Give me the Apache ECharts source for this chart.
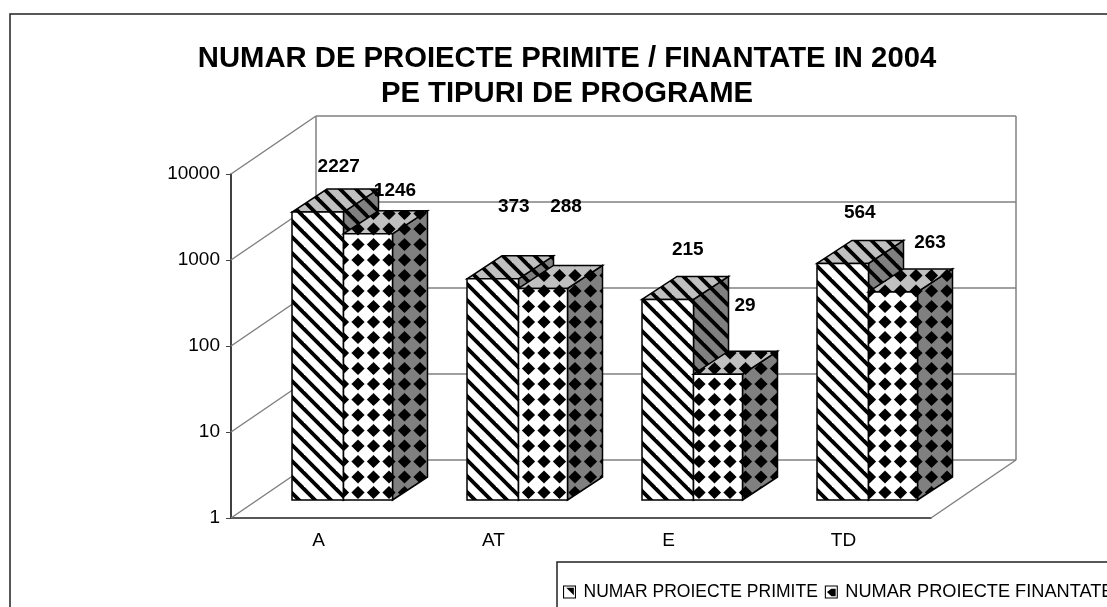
<!DOCTYPE html>
<html>
<head>
<meta charset="utf-8">
<style>
  html, body { margin: 0; padding: 0; background: #fff; }
  #chart { width: 1107px; height: 607px; }
</style>
<script src="https://cdn.jsdelivr.net/npm/echarts@6/dist/echarts.min.js"></script>
</head>
<body>
<div id="chart"></div>
<script>
const categories = ['A', 'AT', 'E', 'TD'];
const primite = [2227, 373, 215, 564];
const finantate = [1246, 288, 29, 263];
const yTicks = [1, 10, 100, 1000, 10000];
const seriesNames = ['NUMAR PROIECTE PRIMITE', 'NUMAR PROIECTE FINANTATE'];

// layout of the fake 3d box, px
const WALL_DX = 85, WALL_DY = 58;
const BAR_LIFT = 18, BAR_DX = 35, BAR_DY = 23;
const barEdges = [[-26.5, 25], [25, 74]];
// where excel left each value label, relative to the top middle of the bar
const labelNudge = [
  [[21, -45], [21, -72], [20, -50], [17, -51]],
  [[27, -43], [23, -82], [27, -68], [37, -49]]
];

function tile(size, bg, draw) {
  const c = document.createElement('canvas');
  c.width = size; c.height = size;
  const ctx = c.getContext('2d');
  ctx.fillStyle = bg;
  ctx.fillRect(0, 0, size, size);
  ctx.fillStyle = '#000';
  ctx.strokeStyle = '#000';
  draw(ctx, size);
  return { image: c, repeat: 'repeat' };
}
function stripes(bg) {
  return tile(16, bg, function (ctx, s) {
    ctx.lineWidth = 3.8;
    [-25, -9, 7, 23].forEach(function (o) {
      ctx.beginPath();
      ctx.moveTo(o - 4, -4);
      ctx.lineTo(o + s + 4, s + 4);
      ctx.stroke();
    });
  });
}
function diamonds(bg) {
  // 15.5px pitch, so two by two diamonds in a 31px tile
  return tile(31, bg, function (ctx, s) {
    const r = 6.6;
    for (let i = -1; i < 3; i++) {
      for (let j = -1; j < 3; j++) {
        const x = 1.5 + i * 15.5, y = 12 + j * 15.5;
        ctx.beginPath();
        ctx.moveTo(x - r, y); ctx.lineTo(x, y - r); ctx.lineTo(x + r, y); ctx.lineTo(x, y + r);
        ctx.closePath();
        ctx.fill();
      }
    }
  });
}
const fills = [
  { front: stripes('#fff'), top: stripes('#c0c0c0'), side: stripes('#808080') },
  { front: diamonds('#fff'), top: diamonds('#c0c0c0'), side: diamonds('#808080') }
];

function face(points, fill) {
  return {
    type: 'polygon',
    shape: { points: points },
    style: { fill: fill, stroke: '#000', lineWidth: 1.5 }
  };
}

function renderBar(params, api) {
  const s = params.seriesIndex - 1;
  const i = api.value(0);
  const mid = api.coord([i, api.value(1)])[0];
  const x0 = mid + barEdges[s][0], x1 = mid + barEdges[s][1];
  const top = api.coord([i, api.value(1)])[1] - BAR_LIFT;
  const bottom = api.coord([i, 1])[1] - BAR_LIFT;
  const f = fills[s];
  const nudge = labelNudge[s][i];
  return {
    type: 'group',
    children: [
      face([[x1, top], [x1 + BAR_DX, top - BAR_DY], [x1 + BAR_DX, bottom - BAR_DY], [x1, bottom]], f.side),
      face([[x0, top], [x0 + BAR_DX, top - BAR_DY], [x1 + BAR_DX, top - BAR_DY], [x1, top]], f.top),
      face([[x0, top], [x1, top], [x1, bottom], [x0, bottom]], f.front),
      {
        type: 'text',
        z2: 50,
        style: {
          x: (x0 + x1) / 2 + nudge[0],
          y: top + nudge[1],
          text: String(api.value(1)),
          align: 'center',
          verticalAlign: 'middle',
          fill: '#000',
          font: 'bold 19px "Liberation Sans", Arial, sans-serif'
        }
      }
    ]
  };
}

function wallLine(x1, y1, x2, y2) {
  return {
    type: 'line',
    shape: { x1: x1, y1: y1, x2: x2, y2: y2 },
    style: { stroke: '#808080', lineWidth: 1.5 }
  };
}

function renderWall(params, api) {
  const box = params.coordSys;
  const y = api.coord([0, api.value(1)])[1];
  const xl = box.x, xr = box.x + box.width;
  const kids = [
    wallLine(xl, y, xl + WALL_DX, y - WALL_DY),
    wallLine(xl + WALL_DX, y - WALL_DY, xr + WALL_DX, y - WALL_DY)
  ];
  if (params.dataIndex === 0) {
    const top = box.y - WALL_DY;
    kids.push(wallLine(xl + WALL_DX, top, xl + WALL_DX, y - WALL_DY));
    kids.push(wallLine(xr + WALL_DX, top, xr + WALL_DX, y - WALL_DY));
    kids.push(wallLine(xr, y, xr + WALL_DX, y - WALL_DY));
  }
  return { type: 'group', children: kids };
}

function swatch(path, name, fontSize) {
  return {
    name: name,
    icon: path,
    itemStyle: { color: '#000', borderWidth: 0 },
    textStyle: { fontSize: fontSize, color: '#000' }
  };
}

const chart = echarts.init(document.getElementById('chart'), null, { renderer: 'canvas' });
chart.setOption({
  backgroundColor: '#fff',
  animation: false,
  textStyle: { fontFamily: '"Liberation Sans", Arial, sans-serif', color: '#000' },
  title: {
    text: 'NUMAR DE PROIECTE PRIMITE / FINANTATE IN 2004\nPE TIPURI DE PROGRAME',
    left: 567,
    top: 41,
    padding: 0,
    textAlign: 'center',
    textStyle: { fontSize: 29.25, fontWeight: 'bold', color: '#000', lineHeight: 35 }
  },
  graphic: [{
    type: 'rect',
    z: -1,
    shape: { x: 10, y: 14, width: 1300, height: 800 },
    style: { fill: 'none', stroke: '#222', lineWidth: 1.5 }
  }],
  legend: {
    left: 557,
    top: 562,
    width: 900,
    padding: [21, 40, 90, 6],
    itemGap: 7,
    itemWidth: 18,
    itemHeight: 13,
    borderColor: '#222',
    borderWidth: 1.5,
    backgroundColor: '#fff',
    selectedMode: false,
    textStyle: { fontSize: 17.5, color: '#000' },
    data: [
      swatch('path://M0 0H12V12H0Z M1 1V11H11V1Z M3 2H10V9Z', seriesNames[0], 17.5),
      swatch('path://M0 0H12V12H0Z M1 1V11H11V1Z M2 6L6 3H10V10H6Z', seriesNames[1], 18.2)
    ]
  },
  grid: { left: 231, top: 174, width: 700, height: 344 },
  xAxis: {
    type: 'category',
    data: categories,
    axisLine: { lineStyle: { color: '#222', width: 1.5 } },
    axisTick: { length: 5, lineStyle: { color: '#222' } },
    axisLabel: { fontSize: 19, color: '#000', margin: 13 }
  },
  yAxis: {
    type: 'log',
    logBase: 10,
    min: 1,
    max: 10000,
    axisLine: { show: true, onZero: false, lineStyle: { color: '#000', width: 1.5 } },
    axisTick: { show: true, length: 5, lineStyle: { color: '#444' } },
    axisLabel: {
      fontSize: 19,
      color: '#000',
      margin: 11,
      formatter: function (v) { return String(v); }
    },
    splitLine: { show: false },
    minorTick: { show: false }
  },
  series: [
    {
      name: 'walls',
      type: 'custom',
      silent: true,
      renderItem: renderWall,
      encode: { x: 0, y: 1 },
      data: yTicks.map(function (t) { return [0, t]; })
    },
    {
      name: seriesNames[0],
      type: 'custom',
      renderItem: renderBar,
      encode: { x: 0, y: 1 },
      data: primite.map(function (v, i) { return [i, v]; })
    },
    {
      name: seriesNames[1],
      type: 'custom',
      renderItem: renderBar,
      encode: { x: 0, y: 1 },
      data: finantate.map(function (v, i) { return [i, v]; })
    }
  ]
});
</script>
</body>
</html>
